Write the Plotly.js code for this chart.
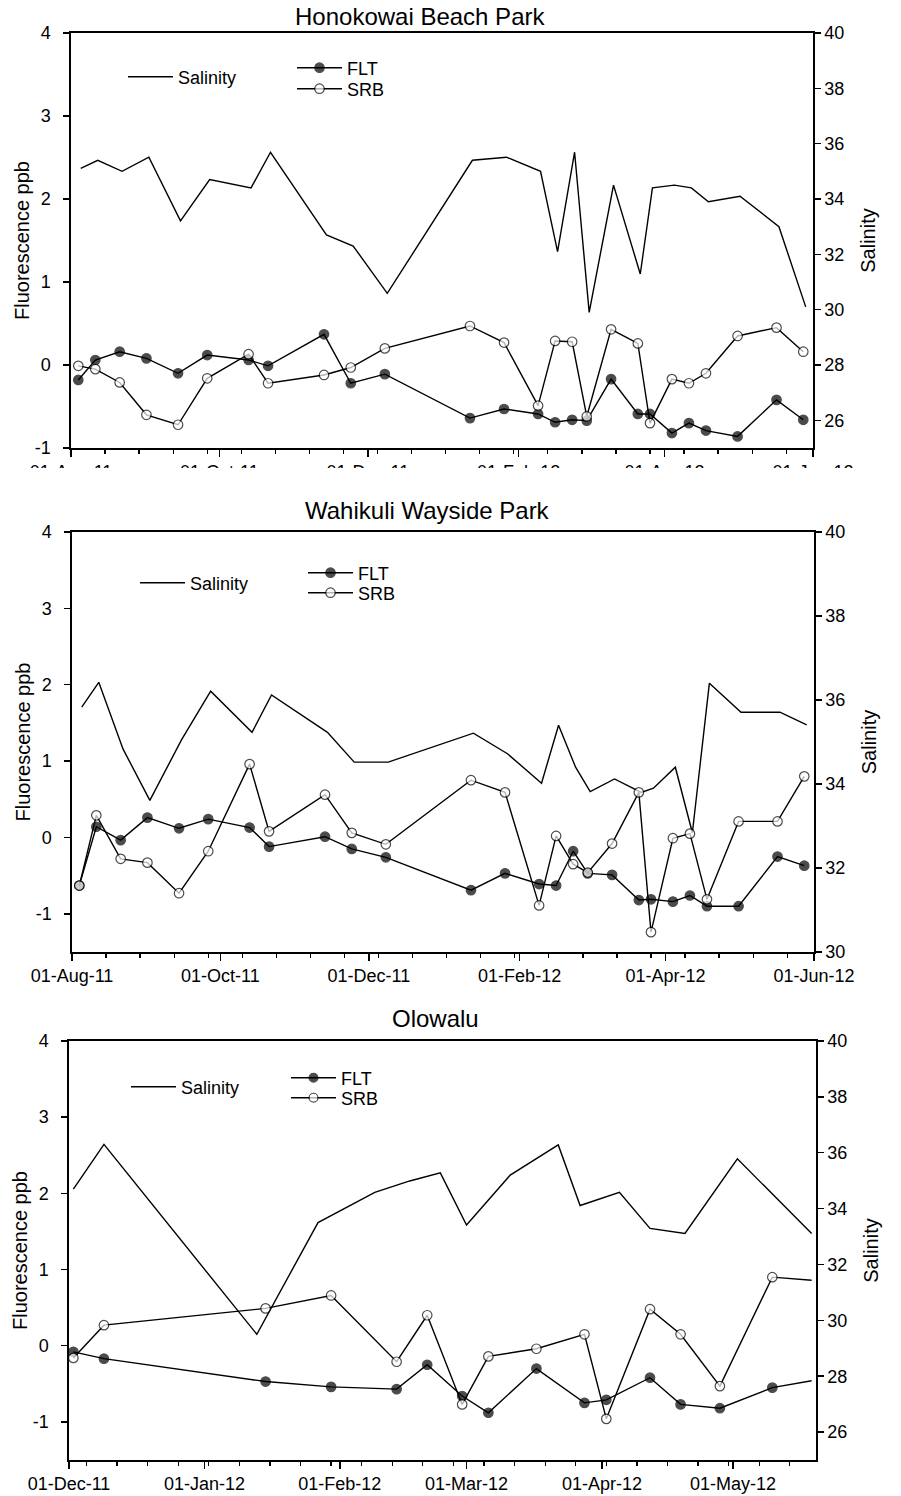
<!DOCTYPE html>
<html>
<head>
<meta charset="utf-8">
<script src="https://cdn.plot.ly/plotly-3.0.1.min.js"></script>
<style>html,body{margin:0;padding:0;background:#fff;}</style>
</head>
<body>
<div id="chart" style="width:901px;height:1496px;"></div>
<script>
// ---------- DATA ----------
// Sampling dates for fluorescence (Honokowai & Wahikuli)
const fieldDates = ["2011-08-04","2011-08-11","2011-08-21","2011-09-01","2011-09-14","2011-09-26","2011-10-13","2011-10-21","2011-11-13","2011-11-24","2011-12-08","2012-01-12","2012-01-26","2012-02-09","2012-02-16","2012-02-23","2012-02-29","2012-03-10","2012-03-21","2012-03-26","2012-04-04","2012-04-11","2012-04-18","2012-05-01","2012-05-17","2012-05-28"];
// Salinity dates (Honokowai & Wahikuli)
const salinityDates = ["2011-08-05","2011-08-12","2011-08-22","2011-09-02","2011-09-15","2011-09-27","2011-10-14","2011-10-22","2011-11-14","2011-11-25","2011-12-09","2012-01-13","2012-01-27","2012-02-10","2012-02-17","2012-02-24","2012-03-01","2012-03-11","2012-03-22","2012-03-27","2012-04-05","2012-04-12","2012-04-19","2012-05-02","2012-05-18","2012-05-29"];

// Honokowai Beach Park
const honoFLT = [-0.18,0.06,0.16,0.08,-0.10,0.12,0.06,-0.01,0.37,-0.22,-0.11,-0.64,-0.53,-0.59,-0.69,-0.66,-0.67,-0.17,-0.59,-0.59,-0.82,-0.70,-0.79,-0.86,-0.42,-0.66];
const honoSRB = [-0.01,-0.05,-0.21,-0.60,-0.72,-0.16,0.13,-0.22,-0.12,-0.03,0.20,0.47,0.27,-0.49,0.29,0.28,-0.62,0.43,0.26,-0.70,-0.17,-0.22,-0.10,0.35,0.45,0.16];
const honoSalinity = [35.11,35.40,35.00,35.51,33.21,34.70,34.40,35.69,32.70,32.30,30.59,35.40,35.51,35.00,32.10,35.69,29.90,34.50,31.29,34.40,34.50,34.40,33.90,34.10,33.00,30.10];

// Wahikuli Wayside Park
const wahiFLT = [-0.63,0.14,-0.035,0.26,0.12,0.24,0.13,-0.12,0.01,-0.15,-0.26,-0.69,-0.47,-0.61,-0.63,-0.18,-0.47,-0.49,-0.82,-0.81,-0.84,-0.76,-0.90,-0.90,-0.25,-0.37];
const wahiSRB = [-0.63,0.29,-0.28,-0.33,-0.73,-0.18,0.96,0.08,0.56,0.06,-0.09,0.75,0.59,-0.89,0.02,-0.35,-0.46,-0.08,0.59,-1.24,-0.01,0.05,-0.81,0.21,0.21,0.80];
const wahiSalinity = [35.83,36.42,34.83,33.61,35.05,36.21,35.23,36.12,35.23,34.52,34.52,35.21,34.72,34.02,35.40,34.40,33.82,34.12,33.80,33.90,34.40,32.84,36.40,35.71,35.71,35.41];

// Olowalu
const oloDates = ["2011-12-02","2011-12-09","2012-01-15","2012-01-30","2012-02-14","2012-02-21","2012-02-29","2012-03-06","2012-03-17","2012-03-28","2012-04-02","2012-04-12","2012-04-19","2012-04-28","2012-05-10","2012-05-19"];
const oloFLT = [-0.08,-0.17,-0.47,-0.54,-0.57,-0.25,-0.66,-0.88,-0.30,-0.75,-0.71,-0.42,-0.77,-0.82,-0.55,-0.46];
const oloSRB = [-0.16,0.27,0.49,0.66,-0.21,0.40,-0.77,-0.14,-0.04,0.15,-0.96,0.48,0.15,-0.53,0.90,0.86];
const oloSalinityDates = ["2011-12-02","2011-12-09","2012-01-13","2012-01-27","2012-02-09","2012-02-17","2012-02-24","2012-03-01","2012-03-11","2012-03-22","2012-03-27","2012-04-05","2012-04-12","2012-04-20","2012-05-02","2012-05-19"];
const oloSalinity = [34.70,36.30,29.50,33.50,34.58,34.99,35.28,33.41,35.20,36.28,34.11,34.58,33.29,33.11,35.78,33.11];

// Titles & tick labels
const panelTitles = ["Honokowai Beach Park","Wahikuli Wayside Park","Olowalu"];
const fluorTicks = [-1,0,1,2,3,4];
const salTicksWide = [26,28,30,32,34,36,38,40];
const salTicksNarrow = [30,32,34,36,38,40];

// ---------- LAYOUT HELPERS ----------
const W = 901, H = 1496;
const fx = v => v / W;
const fy = v => 1 - v / H;
const FONT = "Liberation Sans, Arial, Helvetica, sans-serif";
const BLACK = "#000";

function xAxis(range, domain, anchor, dtick, tick0, minorDtick, minorTick0) {
  return {
    type: "date", range: range, domain: domain, anchor: anchor,
    dtick: dtick, tick0: tick0, tickformat: "%d-%b-%y",
    ticks: "outside", ticklen: 7, tickwidth: 1.5, tickcolor: BLACK,
    showline: true, linecolor: BLACK, linewidth: 1.6, mirror: true,
    showgrid: false, zeroline: false,
    tickfont: {family: FONT, size: 18, color: BLACK},
    minor: {dtick: minorDtick, tick0: minorTick0, ticks: "outside", ticklen: 4,
            tickwidth: 1.3, tickcolor: BLACK, showgrid: false}
  };
}
function salAxis(range, domain, anchor, ticks) {
  return {
    range: range, domain: domain, anchor: anchor, side: "right",
    tickvals: ticks, ticktext: ticks.map(String),
    ticks: "outside", ticklen: 6, tickwidth: 1.5, tickcolor: BLACK,
    showline: true, linecolor: BLACK, linewidth: 1.6,
    showgrid: false, zeroline: false,
    tickfont: {family: FONT, size: 18, color: BLACK},
    title: {text: "Salinity", font: {family: FONT, size: 20, color: BLACK}, standoff: 18}
  };
}
function fluAxis(range, overlay, anchor) {
  return {
    range: range, overlaying: overlay, anchor: anchor, side: "left",
    tickvals: fluorTicks, ticktext: fluorTicks.map(String),
    ticks: "outside", ticklen: 6, tickwidth: 1.5, tickcolor: BLACK,
    ticklabelstandoff: 9,
    showline: true, linecolor: BLACK, linewidth: 1.6,
    showgrid: false, zeroline: false,
    tickfont: {family: FONT, size: 18, color: BLACK},
    title: {text: "Fluorescence ppb", font: {family: FONT, size: 20, color: BLACK}, standoff: 0}
  };
}
function legendAt(x, y) {
  return {x: fx(x), y: fy(y), xanchor: "left", yanchor: "middle",
          bgcolor: "rgba(0,0,0,0)", borderwidth: 0, itemwidth: 45,
          font: {family: FONT, size: 18, color: BLACK}};
}

const lineStyle = {color: BLACK, width: 1.4};
function salTrace(x, y, xa, ya, leg) {
  return {x: x, y: y, xaxis: xa, yaxis: ya, type: "scatter", mode: "lines",
          line: lineStyle, name: "Salinity", legend: leg, showlegend: true};
}
function fluTrace(x, y, xa, ya, leg, name, fill, hideLast) {
  const sizes = x.map((d, i) => (hideLast && i === x.length - 1) ? 0 : 9.5);
  return {x: x, y: y, xaxis: xa, yaxis: ya, type: "scatter", mode: "lines+markers",
          line: lineStyle, name: name, legend: leg, showlegend: true,
          marker: {symbol: "circle", size: sizes, color: fill, line: {color: BLACK, width: 1.2}}};
}

const data = [
  salTrace(salinityDates, honoSalinity, "x", "y", "legend"),
  fluTrace(fieldDates, honoFLT, "x", "y2", "legend2", "FLT", BLACK, false),
  fluTrace(fieldDates, honoSRB, "x", "y2", "legend3", "SRB", "#fff", false),

  salTrace(salinityDates, wahiSalinity, "x2", "y3", "legend4"),
  fluTrace(fieldDates, wahiFLT, "x2", "y4", "legend5", "FLT", BLACK, false),
  fluTrace(fieldDates, wahiSRB, "x2", "y4", "legend6", "SRB", "#fff", false),

  salTrace(oloSalinityDates, oloSalinity, "x3", "y5", "legend7"),
  fluTrace(oloDates, oloFLT, "x3", "y6", "legend8", "FLT", BLACK, true),
  fluTrace(oloDates, oloSRB, "x3", "y6", "legend9", "SRB", "#fff", true)
];

const dTop = [fy(448), fy(33)], dMid = [fy(952), fy(532)], dBot = [fy(1460), fy(1041)];
const twoWeeks = 14 * 86400000, oneWeek = 7 * 86400000;

const layout = {
  width: W, height: H,
  margin: {l: 0, r: 0, t: 0, b: 0},
  paper_bgcolor: "#fff", plot_bgcolor: "#fff",
  font: {family: FONT, color: BLACK},
  hovermode: false,
  xaxis: xAxis(["2011-08-01","2012-06-01"], [fx(71), fx(813)], "y", "M2", "2011-08-01", twoWeeks, "2011-08-01"),
  xaxis2: xAxis(["2011-08-01","2012-06-01"], [fx(72), fx(814)], "y3", "M2", "2011-08-01", twoWeeks, "2011-08-01"),
  xaxis3: xAxis(["2011-12-01","2012-05-20"], [fx(69), fx(816)], "y5", "M1", "2011-12-01", oneWeek, "2011-12-05"),
  yaxis: salAxis([25, 40], dTop, "x", salTicksWide),
  yaxis2: fluAxis([-1, 4], "y", "x"),
  yaxis3: salAxis([30, 40], dMid, "x2", salTicksNarrow),
  yaxis4: fluAxis([-1.5, 4], "y3", "x2"),
  yaxis5: salAxis([25, 40], dBot, "x3", salTicksWide),
  yaxis6: fluAxis([-1.5, 4], "y5", "x3"),
  legend: legendAt(123, 77),
  legend2: legendAt(292, 68),
  legend3: legendAt(292, 89),
  legend4: legendAt(135, 583),
  legend5: legendAt(303, 573),
  legend6: legendAt(303, 593),
  legend7: legendAt(126, 1087),
  legend8: legendAt(286, 1078),
  legend9: legendAt(286, 1098),
  shapes: [
    // top panel's date labels are cut off in the original figure
    {type: "rect", xref: "paper", yref: "paper", x0: 0, x1: 1, y0: fy(500), y1: fy(468),
     fillcolor: "#fff", line: {width: 0}, layer: "above"}
  ],
  annotations: [
    {text: panelTitles[0], x: fx(420), y: fy(16)},
    {text: panelTitles[1], x: fx(427), y: fy(511)},
    {text: panelTitles[2], x: fx(435), y: fy(1018)}
  ].map(a => Object.assign(a, {xref: "paper", yref: "paper", showarrow: false,
      xanchor: "center", yanchor: "middle", font: {family: FONT, size: 24, color: BLACK}}))
};

Plotly.newPlot("chart", data, layout, {staticPlot: true, displayModeBar: false});
</script>
</body>
</html>
